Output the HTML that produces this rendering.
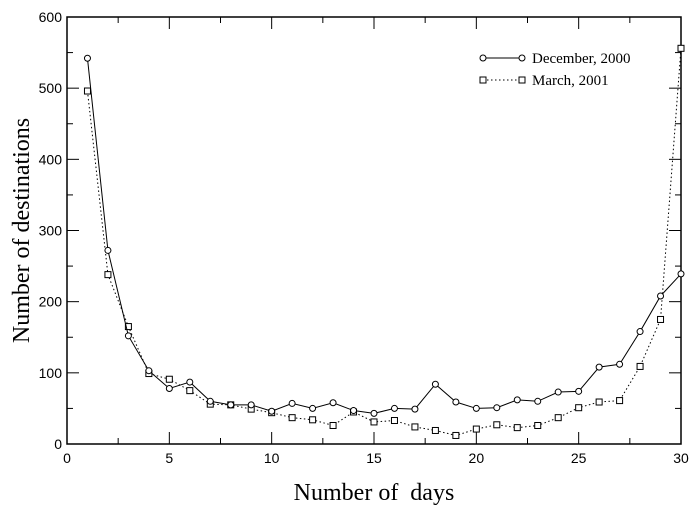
<!DOCTYPE html>
<html><head><meta charset="utf-8"><style>
body{margin:0;background:#fff;}
svg text{font-family:"Liberation Serif",serif;fill:#000;}
svg text.tick{font-family:"Liberation Sans",sans-serif;}
</style></head><body>
<svg id="chart" width="698" height="515" xmlns="http://www.w3.org/2000/svg"></svg>
<script>
const days=[1,2,3,4,5,6,7,8,9,10,11,12,13,14,15,16,17,18,19,20,21,22,23,24,25,26,27,28,29,30];
const dec2000=[542,272,152,103,78,87,60,55,55,46,57,50,58,47,43,50,49,84,59,50,51,62,60,73,74,108,112,158,208,239];
const mar2001=[496,238,165,99,91,75,56,55,49,44,37,34,26,45,31,33,24,19,12,21,27,23,26,37,51,59,61,109,175,556];
const xTicks=[0,5,10,15,20,25,30];
const yTicks=[0,100,200,300,400,500,600];
const L=67,R=681,T=17,B=444;
const xs=v=>L+(v-0)/30*(R-L);
const ys=v=>B-(v/600)*(B-T);
const svg=document.getElementById('chart');
const NS='http://www.w3.org/2000/svg';
function mk(tag,at,parent){const e=document.createElementNS(NS,tag);for(const k in at)e.setAttribute(k,at[k]);(parent||svg).appendChild(e);return e;}
const frame=mk('rect',{x:L,y:T,width:R-L,height:B-T,fill:'none',stroke:'#000','stroke-width':1.5});


const ax=mk('g',{});


for(let v=0;v<=30;v+=2.5){const major=v%5===0;const len=major?12:6;
 mk('line',{x1:xs(v),x2:xs(v),y1:B,y2:B-len,stroke:'#000'},ax);
 mk('line',{x1:xs(v),x2:xs(v),y1:T,y2:T+len,stroke:'#000'},ax);}
for(let v=0;v<=600;v+=50){const major=v%100===0;const len=major?12:6;
 mk('line',{x1:L,x2:L+len,y1:ys(v),y2:ys(v),stroke:'#000'},ax);
 mk('line',{x1:R,x2:R-len,y1:ys(v),y2:ys(v),stroke:'#000'},ax);}
xTicks.forEach(v=>{const t=mk('text',{x:xs(v),y:B+19,'text-anchor':'middle','font-size':14,class:'tick'},ax);t.textContent=v;
 
 });
yTicks.forEach(v=>{const t=mk('text',{x:L-5,y:ys(v)+5,'text-anchor':'end','font-size':14,class:'tick'},ax);t.textContent=v;
 
 });
const xt=mk('text',{x:(L+R)/2,y:500,'text-anchor':'middle','font-size':24});xt.textContent='Number of\u00a0 days';


const yt=mk('text',{x:0,y:0,'text-anchor':'middle','font-size':24,transform:`translate(29,${(T+B)/2}) rotate(-90)`});yt.textContent='Number of destinations';


function series(vals,dash,marker,name){
 const g=mk('g',{});
 
 
 const pts=vals.map((v,i)=>xs(days[i])+','+ys(v)).join(' ');
 mk('polyline',{points:pts,fill:'none',stroke:'#000','stroke-width':1,'stroke-dasharray':dash},g);
 vals.forEach((v,i)=>{const x=xs(days[i]),y=ys(v);
  if(marker==='c')mk('circle',{cx:x,cy:y,r:3,fill:'#fff',stroke:'#000'},g);
  else mk('rect',{x:x-3,y:y-3,width:6,height:6,fill:'#fff',stroke:'#000'},g);});
}
series(mar2001,'1.5,2.5','s','series-march-2001');
series(dec2000,'none','c','series-december-2000');
const lg=mk('g',{});


mk('line',{x1:483,x2:522,y1:58,y2:58,stroke:'#000'},lg);
mk('circle',{cx:483,cy:58,r:3,fill:'#fff',stroke:'#000'},lg);
mk('circle',{cx:522,cy:58,r:3,fill:'#fff',stroke:'#000'},lg);
const l1=mk('text',{x:532,y:63,'font-size':15},lg);l1.textContent='December, 2000';
mk('line',{x1:483,x2:522,y1:80,y2:80,stroke:'#000','stroke-dasharray':'1.5,2.5'},lg);
mk('rect',{x:480,y:77,width:6,height:6,fill:'#fff',stroke:'#000'},lg);
mk('rect',{x:519,y:77,width:6,height:6,fill:'#fff',stroke:'#000'},lg);
const l2=mk('text',{x:532,y:85,'font-size':15},lg);l2.textContent='March, 2001';
</script>
</body></html>
